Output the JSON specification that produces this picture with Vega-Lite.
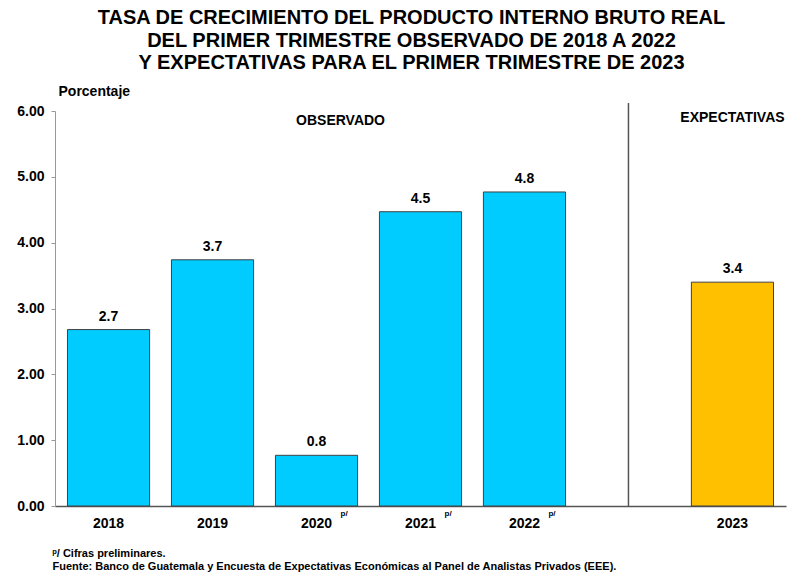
{
  "$schema": "https://vega.github.io/schema/vega-lite/v6.json",
  "autosize": "none",
  "width": 731,
  "height": 395,
  "padding": {"left": 55, "top": 111, "right": 5, "bottom": 67},
  "background": "white",
  "config": {
    "font": "Liberation Sans",
    "view": {"stroke": null}
  },
  "title": {
    "text": ["TASA DE CRECIMIENTO DEL PRODUCTO INTERNO BRUTO REAL", "DEL PRIMER TRIMESTRE OBSERVADO DE 2018 A 2022", "Y EXPECTATIVAS PARA EL PRIMER TRIMESTRE DE 2023"],
    "font": "Liberation Sans",
    "fontSize": 20,
    "fontWeight": "bold",
    "color": "black",
    "lineHeight": 22.5,
    "anchor": "middle",
    "frame": "group",
    "dx": -9,
    "offset": 11
  },
  "data": {
    "values": [
      {"anio": "2018", "valor": 2.68, "tipo": "Observado", "nota": ""},
      {"anio": "2019", "valor": 3.74, "tipo": "Observado", "nota": ""},
      {"anio": "2020", "valor": 0.77, "tipo": "Observado", "nota": "p/"},
      {"anio": "2021", "valor": 4.47, "tipo": "Observado", "nota": "p/"},
      {"anio": "2022", "valor": 4.77, "tipo": "Observado", "nota": "p/"},
      {"anio": "2023", "valor": 3.40, "tipo": "Expectativa", "nota": ""}
    ]
  },
  "encoding": {
    "x": {
      "field": "anio",
      "type": "nominal",
      "sort": null,
      "scale": {"domain": ["2018", "2019", "2020", "2021", "2022", " ", "2023"], "paddingInner": 0.21, "paddingOuter": 0.12},
      "axis": {
        "labelAngle": 0,
        "labelFontSize": 14,
        "labelFontWeight": "bold",
        "labelColor": "black",
        "labelPadding": 10,
        "ticks": false,
        "domainColor": "#555555",
        "domainWidth": 1.5,
        "title": ["ᵖ/ Cifras preliminares.", "Fuente: Banco de Guatemala y Encuesta de Expectativas Económicas al Panel de Analistas Privados (EEE)."],
        "titleFontSize": 11,
        "titleFontWeight": "bold",
        "titleColor": "black",
        "titleAlign": "left",
        "titleAnchor": "start",
        "titleBaseline": "top",
        "titleX": -3,
        "titleY": 41,
        "titleLineHeight": 13
      }
    },
    "y": {
      "field": "valor",
      "type": "quantitative",
      "scale": {"domain": [0, 6], "nice": false},
      "axis": {
        "values": [0, 1, 2, 3, 4, 5, 6],
        "format": ".2f",
        "grid": false,
        "labelFontSize": 14,
        "labelFontWeight": "bold",
        "labelColor": "black",
        "labelPadding": 7,
        "tickSize": 4,
        "tickColor": "#999999",
        "domainColor": "#999999",
        "title": "Porcentaje",
        "titleAngle": 0,
        "titleFontSize": 14,
        "titleFontWeight": "bold",
        "titleColor": "black",
        "titleAlign": "left",
        "titleBaseline": "middle",
        "titleX": 3,
        "titleY": -20
      }
    }
  },
  "layer": [
    {
      "mark": {"type": "bar", "stroke": "#404040", "strokeWidth": 1},
      "encoding": {
        "color": {
          "field": "tipo",
          "type": "nominal",
          "scale": {"domain": ["Observado", "Expectativa"], "range": ["#00CCFF", "#FFC000"]},
          "legend": null
        }
      }
    },
    {
      "mark": {"type": "text", "baseline": "bottom", "dy": -6, "fontSize": 14, "fontWeight": "bold", "color": "black"},
      "encoding": {
        "text": {"field": "valor", "type": "quantitative", "format": ".1f"}
      }
    },
    {
      "transform": [{"filter": "datum.nota != ''"}],
      "mark": {"type": "text", "baseline": "middle", "align": "left", "dx": 24, "dy": 8, "fontSize": 8, "fontWeight": "bold", "color": "black"},
      "encoding": {
        "y": {"datum": 0},
        "text": {"field": "nota"}
      }
    },
    {
      "transform": [{"filter": "datum.anio == '2018'"}],
      "mark": {"type": "rule", "color": "#555555", "strokeWidth": 1.5, "clip": false},
      "encoding": {
        "x": {"datum": " "},
        "y": {"datum": 0},
        "y2": {"datum": 6.12}
      }
    },
    {
      "transform": [{"filter": "datum.anio == '2018'"}],
      "mark": {"type": "text", "fontSize": 14, "fontWeight": "bold", "color": "black", "baseline": "middle", "dx": 24},
      "encoding": {
        "x": {"datum": "2020"},
        "y": {"datum": 5.85},
        "text": {"value": "OBSERVADO"}
      }
    },
    {
      "transform": [{"filter": "datum.anio == '2018'"}],
      "mark": {"type": "text", "fontSize": 14, "fontWeight": "bold", "color": "black", "baseline": "middle"},
      "encoding": {
        "x": {"datum": "2023"},
        "y": {"datum": 5.89},
        "text": {"value": "EXPECTATIVAS"}
      }
    }
  ]
}
